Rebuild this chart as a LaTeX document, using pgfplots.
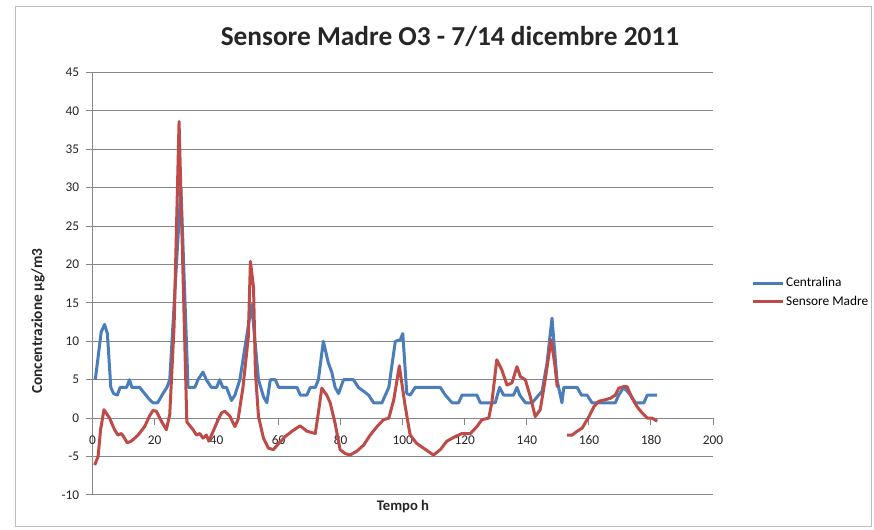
\documentclass[border=0pt]{standalone}
\usepackage{fontspec}
\setmainfont{Carlito}
\usepackage{pgfplots}
\pgfplotsset{compat=1.18}
\definecolor{xlblue}{RGB}{74,126,187}
\definecolor{xlred}{RGB}{190,75,72}
\definecolor{xlgrid}{RGB}{134,134,134}

\begin{document}
\begin{tikzpicture}
\useasboundingbox (0,0) rectangle (655.5pt,397.5pt);
% chart frame
\draw[xlgrid!55, line width=0.75pt] (11.25pt,2.25pt) rectangle (653.25pt,392.25pt);
\begin{axis}[
  at={(69.375pt,26.25pt)}, anchor=south west,
  width=465.4pt, height=317pt, scale only axis,
  xmin=0, xmax=200, ymin=-10, ymax=45,
  axis x line=middle, axis y line=left,
  hide obscured x ticks=false, hide obscured y ticks=false,
  axis line style={-, xlgrid, line width=0.75pt},
  xtick={0,20,...,200}, ytick={-10,-5,...,45},
  ymajorgrids, grid style={xlgrid, line width=0.75pt},
  tick align=outside, major tick length=5pt,
  tick style={xlgrid, line width=0.75pt},
  ticklabel style={font=\fontsize{10}{12}\selectfont, text=black!85},
  xticklabel style={yshift=-4.5pt},
  yticklabel style={xshift=-1.5pt},
  /pgf/number format/assume math mode=true,
  unbounded coords=jump,
  legend style={draw=none, fill=none, at={(1.061,0.479)}, anchor=west,
    font=\fontsize{10}{12}\selectfont, row sep=2.4pt, inner sep=0pt,
    nodes={inner sep=1.5pt}},
  legend cell align=left,
  legend image code/.code={\draw[#1] (0pt,0pt) -- (22.5pt,0pt);},
]
% Centralina
\addplot[xlblue, line width=2.25pt, line join=round] coordinates {
(0.9,5) (2.8,11.2) (3.9,12.2) (4.8,11) (5.9,4) (6.8,3.2) (8,3) (8.9,4) (11,4)
(11.9,5) (12.7,4) (15.2,4) (16.8,3.2) (18.4,2.4) (19.5,2) (21,2) (22.7,3.2)
(24,4) (24.9,5) (28.5,30) (30.8,4) (33,4) (34,5) (35.6,6) (36.7,5) (38.3,4)
(40,4) (41,5) (42,4) (43.2,4) (44.8,2.3) (45.9,3) (47.5,5) (51.3,14.8)
(53.5,5) (55.1,2.8) (56.2,2) (57.3,5) (58.9,5) (60,4) (65.9,4) (67,3) (69.1,3)
(70.2,4) (71.8,4) (72.8,5) (74.4,10) (76,7.2) (77.1,6) (78.2,4) (79.3,3.2)
(80.9,5) (84.1,5) (85.7,4) (87.4,3.5) (89,3) (90.6,2) (93.3,2) (95.5,4)
(97.6,10) (99.2,10.2) (100,11) (101.3,3.2) (102.4,3) (104,4) (112.1,4)
(113.7,3) (115.9,2) (118,2) (119.1,3) (123.9,3) (125,2) (129.8,2) (131.2,4)
(132.5,3) (135.7,3) (136.8,4) (137.7,3) (139.5,2) (141.7,2) (143.8,3)
(144.9,3.5) (146.5,7.2) (148.1,13) (149.7,5) (151.3,2) (151.9,4) (156.2,4)
(157.6,3) (159.4,3) (161,2) (168.5,2) (169.6,3) (171.2,4) (173.4,3) (175,2)
(177.7,2) (178.8,3) (182,3)
};
\addlegendentry{Centralina}
% Sensore Madre
\addplot[xlred, line width=2.25pt, line join=round] coordinates {
(0.7,-6.1) (1.8,-5) (2.6,-1.5) (3.7,1.1) (5.5,0) (7.1,-1.5) (8.2,-2.2)
(9.3,-2) (10,-2.4) (11.2,-3.2) (12.5,-3) (14.7,-2.2) (16.8,-1.1) (18.4,0.3)
(19.5,1) (20.6,0.9) (22.2,-0.4) (23.8,-1.5) (24.9,0.5) (26.3,12) (27.9,38.6)
(30.4,-0.5) (32.4,-1.5) (33.5,-2.2) (34.6,-2) (35.6,-2.6) (36.7,-2.2)
(37.5,-3) (38.9,-1.7) (40.5,-0.2) (41.6,0.7) (42.6,0.9) (44.2,0.3)
(45.9,-1.1) (46.9,-0.2) (48.5,4) (50.2,10.5) (50.9,20.4) (51.9,17)
(52.5,6) (53.5,0.2) (55.1,-2.6) (56.7,-3.9) (58.3,-4.1) (60,-3.3)
(62.1,-2.4) (64.3,-1.7) (66.9,-1) (69.1,-1.7) (71.8,-2) (72.8,0.7)
(73.9,3.9) (75.5,3) (76.6,2) (78.2,-0.7) (79.8,-4.1) (81.4,-4.6) (83,-4.8)
(85.2,-4.3) (87.4,-3.5) (89.5,-2.2) (91.7,-1.1) (93.8,-0.2) (95.5,0)
(97.1,2.4) (98.9,6.8) (100.6,2) (101.9,-1.1) (102.4,-2.2) (104.5,-3.3)
(106.7,-3.9) (109.9,-4.8) (112.1,-4.1) (114.2,-3) (116.9,-2.4) (119.1,-2)
(121.8,-2) (123.9,-1.1) (125.5,-0.2) (127.7,0) (128.7,2) (130.3,7.6)
(131.9,6.3) (133.6,4.3) (135.2,4.6) (136.8,6.7) (137.9,5.4) (139.5,5)
(141.1,2.8) (142.7,0.2) (144.3,1.1) (145.9,5) (147.8,10.2) (149,7)
(149.8,4) (151,nan)
(153,-2.2) (154.6,-2.2) (156.2,-1.7) (157.8,-1.3) (160,0.2) (161.6,1.5)
(163.2,2.2) (165.3,2.4) (167,2.6) (168.5,3) (169.6,3.9) (171.2,4.1)
(172.3,4.1) (173.9,2.6) (175.5,1.5) (177.1,0.7) (178.8,0) (180.4,0)
(182,-0.4)
};
\addlegendentry{Sensore Madre}
\end{axis}
% titles
\node[font=\bfseries\fontsize{20.5}{24}\selectfont, text=black!85] at (337.5pt,369.75pt) {Sensore Madre O3 - 7/14 dicembre 2011};
\node[font=\bfseries\fontsize{11}{13}\selectfont, text=black!85] at (302.25pt,17.25pt) {Tempo h};
\node[font=\bfseries\fontsize{11.5}{13}\selectfont, text=black!85, rotate=90] at (28.5pt,156.75pt) {Concentrazione µg/m3};
\end{tikzpicture}
\end{document}
